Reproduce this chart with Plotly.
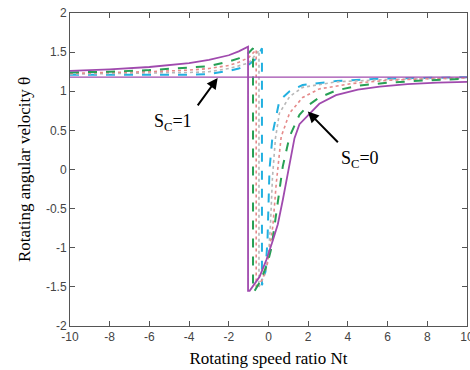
import plotly.graph_objects as go

# ---- data ----
# Sc = 0 (magenta solid)
m_left_x = [-10, -8, -6, -4, -3, -2, -1.5, -1.03]
m_left_y = [1.26, 1.28, 1.31, 1.36, 1.40, 1.46, 1.51, 1.57]
m_right_x = [-1.03, -0.95, -0.45, -0.1, 0.2, 0.47, 0.72, 1.06, 1.31, 1.56, 2.0, 2.56, 3.4, 4.5, 5.6, 7, 8.5, 10]
m_right_y = [-1.55, -1.55, -1.37, -1.15, -0.92, -0.70, -0.39, 0.04, 0.40, 0.58, 0.70, 0.84, 0.95, 1.02, 1.06, 1.09, 1.11, 1.12]

# green dashed
g_left_x = [-10, -8, -6, -4, -3, -2, -1.5, -1, -0.78]
g_left_y = [1.24, 1.25, 1.27, 1.30, 1.32, 1.38, 1.42, 1.49, 1.55]
g_right_x = [-0.78, -0.7, -0.4, -0.05, 0.15, 0.3, 0.47, 0.72, 1.06, 1.56, 2.0, 2.56, 3.4, 4.5, 6, 8, 10]
g_right_y = [-1.55, -1.55, -1.42, -1.2, -1.0, -0.73, -0.39, 0.04, 0.42, 0.70, 0.82, 0.92, 1.01, 1.07, 1.11, 1.14, 1.16]

# pink dotted
p_left_x = [-10, -6, -4, -3, -2, -1.5, -1, -0.62]
p_left_y = [1.23, 1.25, 1.27, 1.29, 1.33, 1.37, 1.43, 1.53]
p_right_x = [-0.62, -0.3, -0.05, 0.1, 0.22, 0.39, 0.64, 1.06, 1.72, 2.56, 4.24, 6, 8, 10]
p_right_y = [-1.52, -1.40, -1.2, -0.95, -0.72, -0.18, 0.42, 0.72, 0.92, 1.03, 1.10, 1.14, 1.16, 1.17]

# gray dotted
r_left_x = [-10, -6, -4, -3, -2, -1, -0.48]
r_left_y = [1.22, 1.23, 1.24, 1.25, 1.29, 1.36, 1.52]
r_right_x = [-0.48, -0.2, 0.0, 0.1, 0.2, 0.35, 0.55, 1.06, 1.72, 3.4, 6, 10]
r_right_y = [-1.50, -1.35, -1.1, -0.7, -0.1, 0.4, 0.72, 0.93, 1.05, 1.12, 1.15, 1.17]

# cyan dashed
c_left_x = [-10, -6, -4, -3, -2, -1.5, -1, -0.6, -0.33]
c_left_y = [1.21, 1.21, 1.21, 1.22, 1.26, 1.29, 1.34, 1.42, 1.55]
c_right_x = [-0.33, -0.15, -0.05, -0.03, 0.05, 0.22, 0.55, 1.06, 1.72, 3.4, 5.6, 10]
c_right_y = [-1.48, -1.3, -0.9, -0.65, 0.0, 0.48, 0.88, 1.0, 1.08, 1.13, 1.16, 1.18]

# Sc = 1 (horizontal line)
h_x = [-10, 10]
h_y = [1.18, 1.18]

x_ticks = [-10, -8, -6, -4, -2, 0, 2, 4, 6, 8, 10]
y_ticks = [-2, -1.5, -1, -0.5, 0, 0.5, 1, 1.5, 2]

# ---- figure ----
fig = go.Figure()

def add(xl, yl, xr, yr, color, dash, width=1.6):
    fig.add_trace(go.Scatter(x=xl + xr, y=yl + yr, mode="lines",
                             line=dict(color=color, dash=dash, width=width),
                             showlegend=False, hoverinfo="skip"))

add(c_left_x, c_left_y, c_right_x, c_right_y, "#22b0e0", "dash", 2)
add(r_left_x, r_left_y, r_right_x, r_right_y, "#b8b8b8", "dot", 1.6)
add(p_left_x, p_left_y, p_right_x, p_right_y, "#e58a8a", "dot", 1.6)
add(g_left_x, g_left_y, g_right_x, g_right_y, "#27a055", "dash", 2)
add(m_left_x, m_left_y, m_right_x, m_right_y, "#a04aae", "solid", 1.8)
fig.add_trace(go.Scatter(x=h_x, y=h_y, mode="lines",
                         line=dict(color="#a04aae", width=1.3),
                         showlegend=False, hoverinfo="skip"))

serif = "Liberation Serif"
fig.add_annotation(x=-2.56, y=1.17, ax=-3.62, ay=0.80, xref="x", yref="y",
                   axref="x", ayref="y", text="", showarrow=True,
                   arrowhead=2, arrowsize=1.1, arrowwidth=2, arrowcolor="black")
fig.add_annotation(x=-4.82, y=0.60, xref="x", yref="y", showarrow=False,
                   text="S<sub>C</sub>=1", font=dict(family=serif, size=18, color="black"))
fig.add_annotation(x=1.98, y=0.74, ax=3.57, ay=0.33, xref="x", yref="y",
                   axref="x", ayref="y", text="", showarrow=True,
                   arrowhead=2, arrowsize=1.1, arrowwidth=2, arrowcolor="black")
fig.add_annotation(x=4.6, y=0.13, xref="x", yref="y", showarrow=False,
                   text="S<sub>C</sub>=0", font=dict(family=serif, size=18, color="black"))

axis_common = dict(showline=True, linecolor="#555555", linewidth=1, mirror="ticks",
                   ticks="inside", ticklen=5, tickcolor="#555555", showgrid=False,
                   zeroline=False, ticklabeloverflow="allow", automargin=False,
                   tickfont=dict(family="Liberation Sans", size=12, color="#444444"))

fig.update_xaxes(range=[-10, 10], tickvals=x_ticks, ticktext=[str(v) for v in x_ticks],
                 title=dict(text="Rotating speed ratio Nt", font=dict(family=serif, size=17, color="black"),
                            standoff=8),
                 **axis_common)
fig.update_yaxes(range=[-2, 2], tickvals=y_ticks, ticktext=[("%g" % v) for v in y_ticks],
                 title=dict(text="Rotating angular velocity θ", font=dict(family=serif, size=17, color="black"),
                            standoff=10),
                 **axis_common)

fig.update_layout(width=470, height=370, margin=dict(l=70, r=3, t=13, b=44),
                  paper_bgcolor="white", plot_bgcolor="white")

fig.write_html("out.html")
